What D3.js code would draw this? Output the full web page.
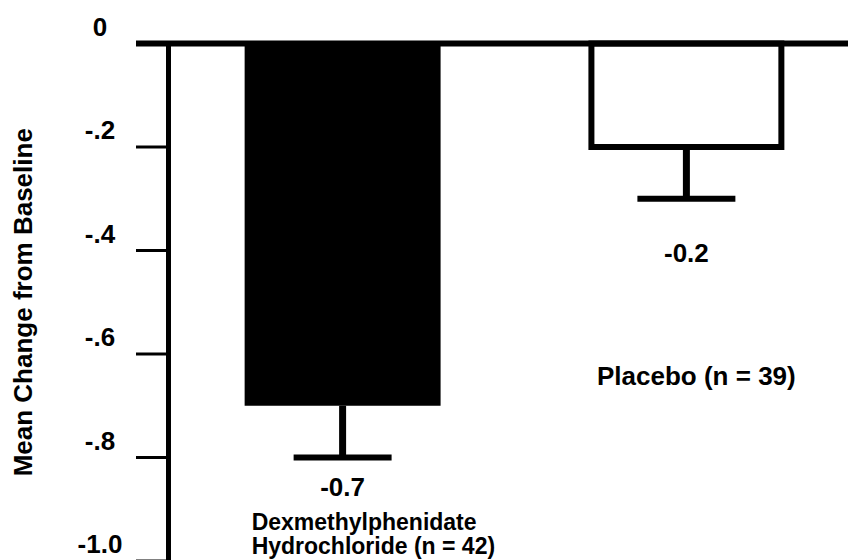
<!DOCTYPE html>
<html>
<head>
<meta charset="utf-8">
<script src="https://cdn.jsdelivr.net/npm/d3@7"></script>
<style>
  body { margin: 0; background: #fff; }
  text { font-family: "Liberation Sans", Arial, sans-serif; font-weight: bold; fill: #000; }
</style>
</head>
<body>
<div id="chart"></div>
<script>
// data
var groups = ["Dexmethylphenidate", "Placebo"];
var means = [-0.7, -0.2];
var errors = [0.1, 0.1];
var valueLabels = ["-0.7", "-0.2"];
var groupLabels = [["Dexmethylphenidate", "Hydrochloride (n = 42)"], ["Placebo (n = 39)"]];
var tickValues = [0, -0.2, -0.4, -0.6, -0.8, -1.0];
var tickLabels = ["0", "-.2", "-.4", "-.6", "-.8", "-1.0"];

var width = 848, height = 560;

var svg = d3.select("#chart")
  .append("svg")
    .attr("width", width)
    .attr("height", height);

// scales
var y = d3.scaleLinear()
  .domain([0, -1])
  .range([43.5, 561]);

var x = d3.scaleBand()
  .domain(groups)
  .range([169, 860])
  .paddingInner(0.43)
  .paddingOuter(0.22);

var data = groups.map(function(g, i) {
  return {group: g, mean: means[i], err: errors[i], label: valueLabels[i]};
});

// bars
svg.selectAll(".bar")
  .data(data)
  .enter()
  .append("rect")
    .attr("class", "bar")
    .attr("x", function(d, i) { return i == 0 ? x(d.group) : x(d.group) + 3; })
    .attr("width", function(d, i) { return i == 0 ? x.bandwidth() : x.bandwidth() - 6; })
    .attr("y", y(0))
    .attr("height", function(d) { return y(d.mean) - y(0); })
    .attr("fill", function(d, i) { return i == 0 ? "#000" : "#fff"; })
    .attr("stroke", function(d, i) { return i == 0 ? "none" : "#000"; })
    .attr("stroke-width", 6);

// error bars (stem + cap)
svg.selectAll(".stem")
  .data(data)
  .enter()
  .append("line")
    .attr("x1", function(d) { return x(d.group) + x.bandwidth()/2; })
    .attr("x2", function(d) { return x(d.group) + x.bandwidth()/2; })
    .attr("y1", function(d) { return y(d.mean); })
    .attr("y2", function(d) { return y(d.mean - d.err); })
    .attr("stroke", "#000")
    .attr("stroke-width", 7);

svg.selectAll(".cap")
  .data(data)
  .enter()
  .append("line")
    .attr("x1", function(d) { return x(d.group) + x.bandwidth()/2 - x.bandwidth()/4; })
    .attr("x2", function(d) { return x(d.group) + x.bandwidth()/2 + x.bandwidth()/4; })
    .attr("y1", function(d) { return y(d.mean - d.err); })
    .attr("y2", function(d) { return y(d.mean - d.err); })
    .attr("stroke", "#000")
    .attr("stroke-width", 6);

// y axis: ticks, labels, spine
svg.selectAll(".tick")
  .data(tickValues)
  .enter()
  .append("line")
    .attr("x1", 136)
    .attr("x2", 168)
    .attr("y1", function(d) { return y(d); })
    .attr("y2", function(d) { return y(d); })
    .attr("stroke", "#000")
    .attr("stroke-width", 3);

svg.selectAll(".ticklabel")
  .data(tickValues)
  .enter()
  .append("text")
    .attr("x", 100)
    .attr("y", function(d) { return y(d) - 8; })
    .attr("text-anchor", "middle")
    .style("font-size", "26px")
    .text(function(d, i) { return tickLabels[i]; });

svg.append("line")
  .attr("x1", 168.5)
  .attr("x2", 168.5)
  .attr("y1", y(0))
  .attr("y2", height)
  .attr("stroke", "#000")
  .attr("stroke-width", 5);

// zero line across the top
svg.append("line")
  .attr("x1", 136)
  .attr("x2", width)
  .attr("y1", y(0))
  .attr("y2", y(0))
  .attr("stroke", "#000")
  .attr("stroke-width", 6);

svg.append("text")
  .attr("transform", "translate(32," + y(-0.5) + ") rotate(-90)")
  .attr("text-anchor", "middle")
  .style("font-size", "26px")
  .text("Mean Change from Baseline");

// value labels
svg.append("text")
  .attr("x", x(groups[0]) + x.bandwidth()/2)
  .attr("y", y(-0.875))
  .attr("text-anchor", "middle")
  .style("font-size", "26px")
  .text(valueLabels[0]);

svg.append("text")
  .attr("x", x(groups[1]) + x.bandwidth()/2)
  .attr("y", y(-0.422))
  .attr("text-anchor", "middle")
  .style("font-size", "26px")
  .text(valueLabels[1]);

// group labels (two lines under the black bar)
svg.selectAll(".grouplabel")
  .data(groupLabels[0])
  .enter()
  .append("text")
    .attr("class", "grouplabel")
    .attr("x", x(groups[0]) + 7)
    .attr("y", function(d, i) { return y(-0.94) + i * 24; })
    .style("font-size", "23px")
    .text(function(d) { return d; });

svg.append("text")
  .attr("x", x(groups[1]) + x.bandwidth()/2 + 10)
  .attr("y", y(-0.66))
  .attr("text-anchor", "middle")
  .style("font-size", "26px")
  .text(groupLabels[1][0]);
</script>
</body>
</html>
